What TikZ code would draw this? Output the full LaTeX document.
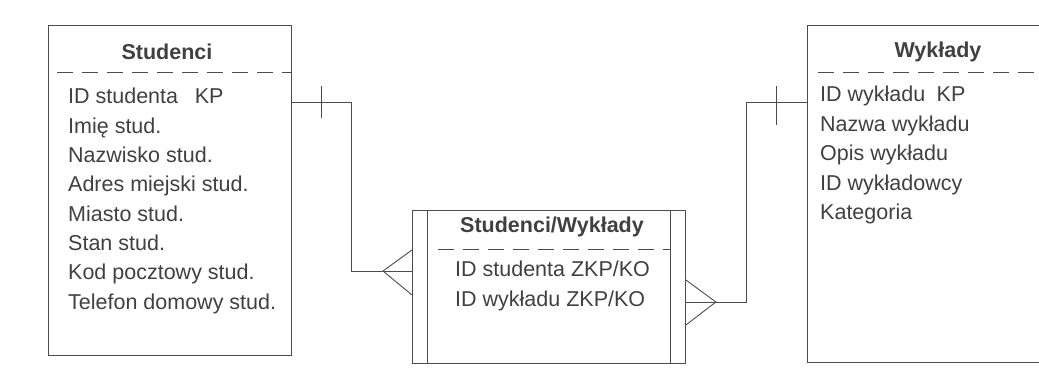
\documentclass[tikz,border=0pt]{standalone}
\usepackage{fontspec}
\setmainfont{Liberation Sans}
\usetikzlibrary{calc}

\begin{document}
\begin{tikzpicture}[
  x=1pt, y=-1pt,
  entity/.style = {draw=black!70, line width=0.9pt, rectangle, inner sep=0pt, anchor=north west},
  title/.style = {font=\fontsize{21.5}{26}\selectfont\bfseries, text=black!75, anchor=base},
  attr/.style = {font=\fontsize{21.5}{26}\selectfont, text=black!75, anchor=base west, inner sep=0pt},
  sep/.style = {draw=black!70, line width=0.9pt, dash pattern=on 16pt off 9pt},
  rel/.style = {draw=black!70, line width=0.9pt},
]

% Frame
\clip (0,0) rectangle (1039,371);

% Entities
\node[entity, minimum width=243pt, minimum height=330pt] (stud) at (48,25) {};
\node[entity, minimum width=273pt, minimum height=153pt] (link) at (412,210) {};
\node[entity, minimum width=253pt, minimum height=337pt] (wykl) at (807,25) {};

% Double side bars of the link entity
\draw[rel] ([xshift=15pt]link.north west) -- ([xshift=15pt]link.south west);
\draw[rel] ([xshift=-15pt]link.north east) -- ([xshift=-15pt]link.south east);

% Titles and separators
\node[title] (studT) at (167,60) {Studenci};
\node[title] (linkT) at (552,233) {Studenci/Wykłady};
\node[title] (wyklT) at (938,58) {Wykłady};
\draw[sep] (57,72) -- (stud.east |- 0,72);
\draw[sep] (438,249) -- (670,249);
\draw[sep] (818,72) -- (1039,72);

% Attributes
\foreach \t [count=\i] in {ID studenta\hspace{0.5em} KP, Imię stud., Nazwisko stud.,
  Adres miejski stud., Miasto stud., Stan stud., Kod pocztowy stud.,
  Telefon domowy stud.}
  \node[attr] (studA\i) at (68,{104+29.3*(\i-1)}) {\t};
\foreach \t [count=\i] in {ID studenta ZKP/KO, ID wykładu ZKP/KO}
  \node[attr] (linkA\i) at (455,{277+30*(\i-1)}) {\t};
\foreach \t [count=\i] in {ID wykładu\hspace{0.25em} KP, Nazwa wykładu, Opis wykładu,
  ID wykładowcy, Kategoria}
  \node[attr] (wyklA\i) at (820,{102+29.5*(\i-1)}) {\t};

% Relationship ends
\coordinate (sKey) at (stud.east |- 0,102);
\coordinate (mS) at (link.west |- 0,271);
\coordinate (mW) at (link.east |- 0,302);
\coordinate (wKey) at (wykl.west |- 0,102);

% Studenci -- Studenci/Wykłady
\draw[rel] (sKey) -- (351,102) |- (mS);
\draw[rel] ($(sKey)+(30,-16)$) -- ++(0,32);
\draw[rel] ($(mS)+(0,-21)$) -- ($(mS)+(-29,0)$) -- ($(mS)+(0,24)$);

% Studenci/Wykłady -- Wykłady
\draw[rel] (mW) -- (746,302) |- (wKey);
\draw[rel] ($(wKey)+(-31,-16)$) -- ++(0,39);
\draw[rel] ($(mW)+(0,-22)$) -- ($(mW)+(30,0)$) -- ($(mW)+(0,23)$);

\end{tikzpicture}
\end{document}
